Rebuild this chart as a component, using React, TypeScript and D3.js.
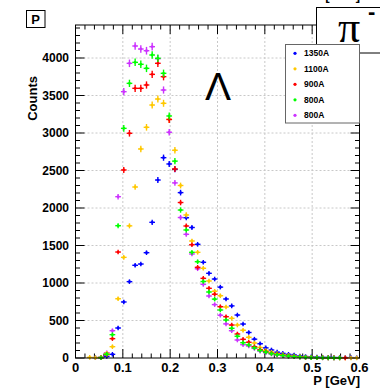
import React from "react";
import * as d3 from "d3";

const binCenters: number[] = d3.range(50).map((k) => 0.006 + 0.012 * k);

const seriesNames = ["1350A", "1100A", "900A", "800A", "800A"];
const seriesColors = ["#0000ff", "#ffc800", "#ff0000", "#00ff00", "#cc33ff"];

const blue1350 = [0, 0, 0, 5, 10, 20, 49, 400, 747, 1018, 1236, 1253, 1404, 1809, 2373, 2671, 2587, 2516, 2205, 1870, 1740, 1516, 1276, 1129, 1053, 945, 787, 695, 573, 453, 340, 251, 190, 135, 107, 78, 62, 49, 40, 27, 20, 16, 13, 10, 9, 7, 6, 5, 5, 4];
const yellow1100 = [0, 0, 8, 5, 10, 62, 151, 790, 1342, 1762, 2280, 2787, 3076, 3373, 3453, 3396, 3182, 2770, 2300, 1907, 1560, 1409, 1196, 1027, 890, 830, 680, 529, 440, 370, 276, 200, 140, 100, 78, 58, 45, 34, 25, 18, 12, 9, 6, 5, 4, 3, 2, 2, 1, 1];
const red900 = [0, 0, 0, 0, 3, 45, 258, 1413, 2507, 2996, 3596, 3596, 3640, 3782, 3929, 3751, 3180, 2520, 2073, 1760, 1510, 1209, 1062, 929, 850, 684, 551, 440, 320, 249, 210, 150, 110, 85, 62, 48, 36, 27, 20, 13, 9, 6, 4, 3, 2, 2, 1, 1, 0, 0];
const green800 = [0, 0, 0, 0, 3, 50, 311, 1764, 3062, 3662, 3942, 3916, 3862, 4040, 3996, 3796, 3227, 2625, 1973, 1707, 1409, 1284, 1020, 880, 785, 640, 507, 396, 290, 204, 175, 135, 100, 78, 58, 44, 33, 25, 18, 12, 8, 5, 4, 3, 2, 1, 1, 0, 0, 0];
const violet800 = [0, 0, 0, 0, 4, 71, 364, 2151, 3551, 3929, 4160, 4120, 4097, 4151, 3990, 3573, 3010, 2335, 1873, 1649, 1387, 1190, 982, 827, 712, 570, 455, 364, 240, 178, 160, 128, 92, 70, 52, 40, 30, 22, 16, 11, 7, 5, 3, 2, 1, 1, 0, 0, 0, 0];

const allSeries = [blue1350, yellow1100, red900, green800, violet800];
const drawOrder = [4, 0, 1, 2, 3];

const xMajor = [0, 0.1, 0.2, 0.3, 0.4, 0.5, 0.6];
const xLabels = ["0", "0.1", "0.2", "0.3", "0.4", "0.5", "0.6"];
const yMajor = [0, 500, 1000, 1500, 2000, 2500, 3000, 3500, 4000];

const W = 380;
const H = 390;
const L = 75.5, R = 359.5, T = 25, B = 358;

export default function App() {
  const x = d3.scaleLinear().domain([0, 0.6]).range([L, R]);
  const y = d3.scaleLinear().domain([0, 4440]).range([B, T]);
  const xMinor = d3.range(0, 0.6001, 0.02);
  const yMinor = d3.range(0, 4401, 100);
  const font = "'Liberation Sans', Arial, Helvetica, sans-serif";
  const halfW = (x(0.012) - x(0)) / 2;

  return (
    <svg width={W} height={H} style={{ position: "absolute", left: 0, top: 0, background: "#fff" }} fontFamily={font}>
      <rect x={0} y={0} width={W} height={H} fill="#fff" />
      {/* grid */}
      {xMajor.slice(1, -1).map((v, i) => (
        <line key={"gx" + i} x1={x(v)} x2={x(v)} y1={T} y2={B} stroke="#c8c8c8" strokeDasharray="2,2" strokeWidth={1} />
      ))}
      {yMajor.slice(1).map((v, i) => (
        <line key={"gy" + i} x1={L} x2={R} y1={y(v)} y2={y(v)} stroke="#c8c8c8" strokeDasharray="2,2" strokeWidth={1} />
      ))}
      {/* ticks */}
      {xMinor.map((v, i) => {
        const isMajor = Math.abs(v * 10 - Math.round(v * 10)) < 1e-6;
        const len = isMajor ? 9 : 4.5;
        return (
          <g key={"xt" + i} stroke="#000" strokeWidth={1}>
            <line x1={x(v)} x2={x(v)} y1={B} y2={B - len} />
            <line x1={x(v)} x2={x(v)} y1={T} y2={T + len} />
          </g>
        );
      })}
      {yMinor.map((v, i) => {
        const isMajor = v % 500 === 0;
        const len = isMajor ? 9 : 4.5;
        return (
          <g key={"yt" + i} stroke="#000" strokeWidth={1}>
            <line x1={L} x2={L + len} y1={y(v)} y2={y(v)} />
            <line x1={R} x2={R - len} y1={y(v)} y2={y(v)} />
          </g>
        );
      })}
      {/* data */}
      {drawOrder.map((si) => (
        <g key={"s" + si} stroke={seriesColors[si]} fill={seriesColors[si]}>
          {allSeries[si].map((c, k) => {
            if (c <= 0) return null;
            const cx = x(binCenters[k]);
            const cy = y(c);
            const hv = Math.max(2.3, Math.abs(y(0) - y(Math.sqrt(c))) * 0.8);
            return (
              <g key={k}>
                <line x1={cx - halfW} x2={cx + halfW} y1={cy} y2={cy} strokeWidth={1.4} />
                <line x1={cx} x2={cx} y1={cy - hv} y2={cy + hv} strokeWidth={1.4} />
                <circle cx={cx} cy={cy} r={1.4} stroke="none" />
              </g>
            );
          })}
        </g>
      ))}
      {/* frame */}
      <rect x={L} y={T} width={R - L} height={B - T} fill="none" stroke="#000" strokeWidth={1} />
      {/* tick labels */}
      {xMajor.map((v, i) => (
        <text key={"xl" + i} x={x(v)} y={372} fontSize={13} fontWeight="bold" textAnchor="middle">{xLabels[i]}</text>
      ))}
      {yMajor.map((v, i) => (
        <text key={"yl" + i} x={69} y={y(v) + 4.3} fontSize={12} fontWeight="bold" textAnchor="end">{String(v)}</text>
      ))}
      {/* axis titles */}
      <text transform="translate(37,76) rotate(-90)" fontSize={13} fontWeight="bold" textAnchor="end">Counts</text>
      <text x={360} y={385} fontSize={13} fontWeight="bold" textAnchor="end">P [GeV]</text>
      {/* Lambda */}
      <text x={218} y={100} fontSize={39} textAnchor="middle">Λ</text>
      {/* P box */}
      <rect x={26.5} y={10.5} width={18.5} height={17} fill="#fff" stroke="#000" strokeWidth={1} />
      <text x={35.7} y={24} fontSize={13} fontWeight="bold" textAnchor="middle">P</text>
      {/* partial top text */}
      <text x={360} y={0} fontSize={13} fontWeight="bold" textAnchor="end">- [GeV]</text>
      {/* pi box */}
      <rect x={316.5} y={7.5} width={80} height={45.5} fill="#fff" stroke="#000" strokeWidth={1} />
      <text x={349} y={42} fontSize={44} fontFamily="'Liberation Serif', 'Times New Roman', serif" textAnchor="middle">π</text>
      <text x={368} y={19} fontSize={22} fontWeight="bold">-</text>
      {/* legend */}
      <rect x={285.5} y={44.5} width={74} height={78.5} fill="#fff" stroke="#666" strokeWidth={1} />
      {seriesNames.map((n, i) => {
        const ly = 53.3 + i * 15.5;
        return (
          <g key={"lg" + i}>
            <circle cx={295} cy={ly} r={1.6} fill={seriesColors[i]} />
            <text x={304} y={ly + 3} fontSize={8.5} fontWeight="bold">{n}</text>
          </g>
        );
      })}
    </svg>
  );
}
